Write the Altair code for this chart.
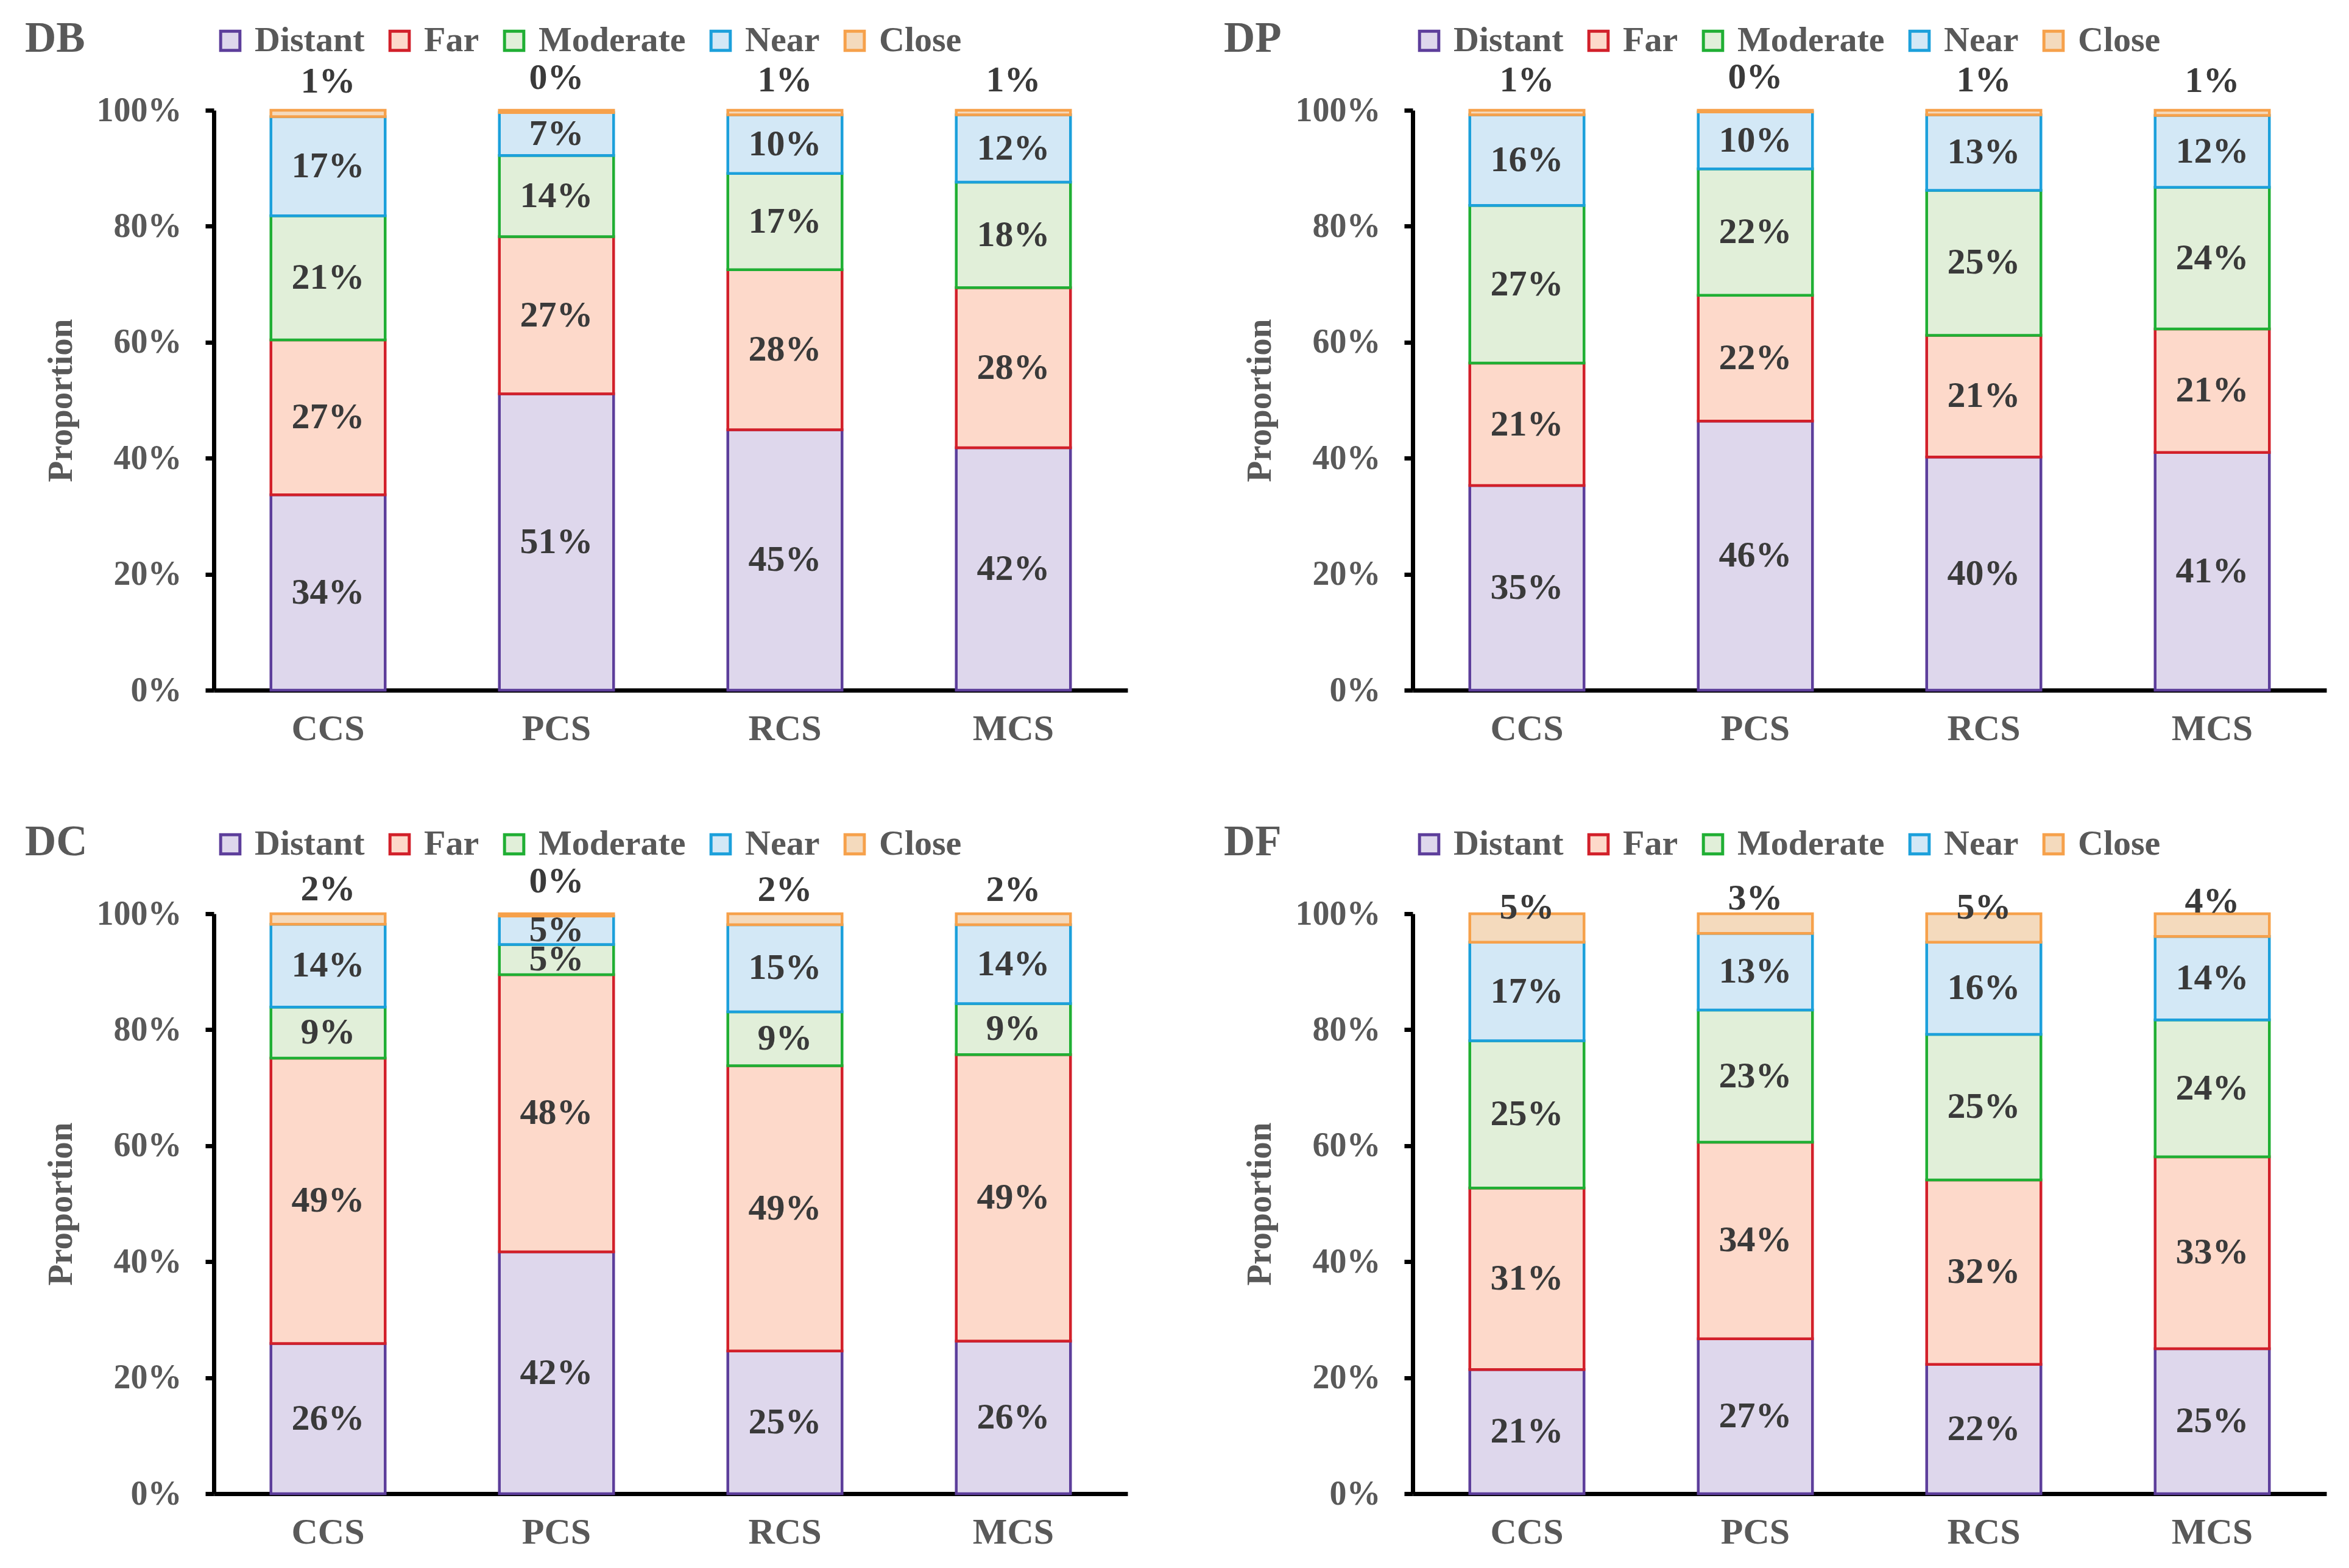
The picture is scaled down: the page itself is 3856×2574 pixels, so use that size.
import altair as alt
import pandas as pd

GROUPS = ["CCS", "PCS", "RCS", "MCS"]
CATEGORIES = ["Distant", "Far", "Moderate", "Near", "Close"]
FILLS = ["#DED7EC", "#FDD9CA", "#E1EFD9", "#D3E8F6", "#F4DABD"]
STROKES = ["#5D3E9B", "#D2202A", "#20AF34", "#1CA0DB", "#F6A14B"]

# values in percent, order: CCS, PCS, RCS, MCS
DB_DISTANT = [33.7, 51.1, 44.9, 41.8]
DB_FAR = [26.7, 27.1, 27.6, 27.6]
DB_MODERATE = [21.4, 14.0, 16.6, 18.2]
DB_NEAR = [17.1, 7.4, 10.1, 11.6]
DB_CLOSE = [1.1, 0.4, 0.8, 0.8]

DP_DISTANT = [35.3, 46.4, 40.2, 41.0]
DP_FAR = [21.1, 21.7, 21.0, 21.3]
DP_MODERATE = [27.2, 21.8, 25.0, 24.4]
DP_NEAR = [15.6, 9.8, 13.0, 12.4]
DP_CLOSE = [0.8, 0.3, 0.8, 0.9]

DC_DISTANT = [25.9, 41.7, 24.6, 26.3]
DC_FAR = [49.2, 47.8, 49.2, 49.4]
DC_MODERATE = [8.8, 5.2, 9.3, 8.8]
DC_NEAR = [14.3, 4.9, 15.0, 13.6]
DC_CLOSE = [1.8, 0.4, 1.9, 1.9]

DF_DISTANT = [21.4, 26.7, 22.3, 25.0]
DF_FAR = [31.3, 33.9, 31.8, 33.1]
DF_MODERATE = [25.4, 22.8, 25.1, 23.6]
DF_NEAR = [17.0, 13.2, 15.9, 14.4]
DF_CLOSE = [4.9, 3.4, 4.9, 3.9]

FONT = "Liberation Serif"
GRAY = "#595959"
LABEL = "#3A3A3A"


def make_df(series):
    rows = []
    for gi, g in enumerate(GROUPS):
        base = 0.0
        for ci, c in enumerate(CATEGORIES):
            v = series[ci][gi]
            rows.append(dict(group=g, cat=c, idx=ci, y0=base, y1=base + v,
                             mid=base + v / 2, label=f"{round(v)}%"))
            base += v
    return pd.DataFrame(rows)


def panel(name, series):
    df = make_df(series)
    legend = alt.Legend(
        orient="none", legendX=-2, legendY=-143, direction="horizontal",
        title=None, labelFont=FONT, labelFontSize=58, labelFontWeight="bold",
        labelColor=GRAY, labelLimit=1000, symbolType="square",
        symbolSize=1000, symbolStrokeWidth=5, labelOffset=11,
        columnPadding=28, padding=0,
    )
    x = alt.X("group:N", sort=GROUPS,
              scale=alt.Scale(paddingInner=0.5, paddingOuter=0.25),
              axis=alt.Axis(title=None, labelAngle=0, ticks=False,
                            domainColor="black", domainWidth=7,
                            labelFont=FONT, labelFontSize=60,
                            labelFontWeight="bold", labelColor=GRAY,
                            labelPadding=34))
    y_scale = alt.Scale(domain=[0, 100], nice=False)
    y_axis = alt.Axis(values=[0, 20, 40, 60, 80, 100],
                      labelExpr="datum.value + '%'", title="Proportion",
                      titleFont=FONT, titleFontSize=57, titleFontWeight="bold",
                      titleColor=GRAY, titlePadding=29,
                      labelFont=FONT, labelFontSize=56, labelFontWeight="bold",
                      labelColor=GRAY, labelPadding=39, tickSize=14,
                      tickWidth=7, tickColor="black", domainColor="black",
                      domainWidth=7, grid=False)
    base = alt.Chart(df)
    bars = base.mark_bar(strokeWidth=4.5).encode(
        x=x,
        y=alt.Y("y0:Q", scale=y_scale, axis=y_axis),
        y2="y1:Q",
        fill=alt.Fill("cat:N", sort=CATEGORIES,
                      scale=alt.Scale(domain=CATEGORIES, range=FILLS),
                      legend=legend),
        stroke=alt.Stroke("cat:N", sort=CATEGORIES,
                          scale=alt.Scale(domain=CATEGORIES, range=STROKES),
                          legend=legend),
    )
    inner = base.transform_filter(alt.datum.cat != "Close").mark_text(
        font=FONT, fontSize=60, fontWeight="bold", color=LABEL,
        baseline="middle").encode(
        x=alt.X("group:N", sort=GROUPS),
        y=alt.Y("mid:Q"),
        text="label:N",
    )
    top = base.transform_filter(alt.datum.cat == "Close").mark_text(
        font=FONT, fontSize=60, fontWeight="bold", color=LABEL,
        baseline="bottom", dy=-26).encode(
        x=alt.X("group:N", sort=GROUPS),
        y=alt.Y("y0:Q"),
        text="label:N",
    )
    return alt.layer(bars, inner, top).properties(
        width=1500, height=952,
        title=alt.TitleParams(name, anchor="start", frame="group", dx=-310,
                              dy=62, offset=0, font=FONT, fontSize=71,
                              fontWeight="bold", color=GRAY),
    ).resolve_scale(fill="independent", stroke="independent")


charts = [
    panel("DB", [DB_DISTANT, DB_FAR, DB_MODERATE, DB_NEAR, DB_CLOSE]),
    panel("DP", [DP_DISTANT, DP_FAR, DP_MODERATE, DP_NEAR, DP_CLOSE]),
    panel("DC", [DC_DISTANT, DC_FAR, DC_MODERATE, DC_NEAR, DC_CLOSE]),
    panel("DF", [DF_DISTANT, DF_FAR, DF_MODERATE, DF_NEAR, DF_CLOSE]),
]

chart = alt.concat(*charts, columns=2, spacing={"row": 121, "column": 158}).resolve_scale(
    fill="independent", stroke="independent"
).properties(
    padding={"left": 33, "top": 20, "right": 5, "bottom": 5},
    background="white",
).configure_view(stroke=None)

chart.save("out.html", embed_options={"renderer": "svg", "actions": False})
